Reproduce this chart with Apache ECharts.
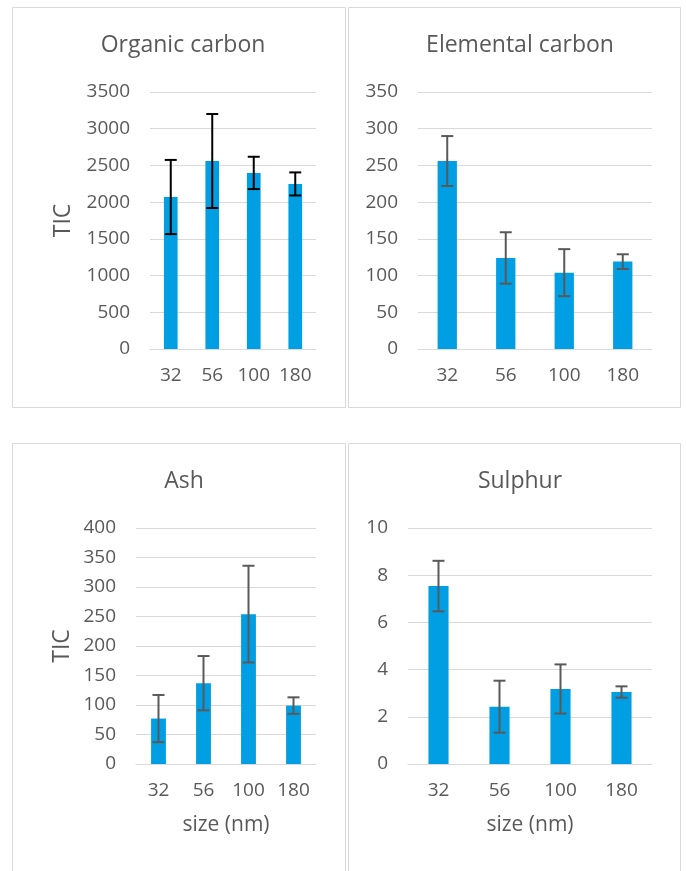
<!DOCTYPE html>
<html><head><meta charset="utf-8">
<script src="https://cdn.jsdelivr.net/npm/echarts@6/dist/echarts.min.js"></script>
<style>html,body{margin:0;padding:0;background:#fff}#c{width:686px;height:871px}</style>
</head><body><div id="c"></div>
<script>
const categories = ['32', '56', '100', '180'];
const titles = ['Organic carbon', 'Elemental carbon', 'Ash', 'Sulphur'];
const yAxisNames = ['TIC', '', 'TIC', ''];
const xAxisNames = ['', '', 'size (nm)', 'size (nm)'];
const organicCarbon = [2070, 2560, 2398, 2248];
const organicCarbonErr = [505, 640, 220, 157];
const elementalCarbon = [256, 124, 104, 119];
const elementalCarbonErr = [34, 35, 32, 10];
const ash = [77, 137, 254, 99];
const ashErr = [40, 46, 82, 14];
const sulphur = [7.54, 2.43, 3.18, 3.05];
const sulphurErr = [1.07, 1.1, 1.04, 0.24];
const yMax = [3500, 350, 400, 10];
const yInterval = [500, 50, 50, 2];

const values = [organicCarbon, elementalCarbon, ash, sulphur];
const errs = [organicCarbonErr, elementalCarbonErr, ashErr, sulphurErr];
const errColors = ['#000000', '#595959', '#595959', '#595959'];

const grids = [
  {left: 150, top: 92, width: 166, height: 257},
  {left: 418, top: 92, width: 234, height: 257},
  {left: 136, top: 528, width: 180, height: 236},
  {left: 408, top: 528, width: 244, height: 236}
];
const yNameGaps = [75, 75, 62, 62];
const titlePos = [[178, 29], [515, 29], [179, 465], [515, 465]];
const boxes = [
  [12.5, 7.5, 333, 400], [348.5, 7.5, 332, 400],
  [12.5, 443.5, 333, 440], [348.5, 443.5, 332, 440]
];
const textColor = '#595959';
const font = 'Open Sans';

const option = {
  animation: false,
  backgroundColor: '#fff',
  textStyle: {fontFamily: font},
  graphic: boxes.map(b => ({
    type: 'rect', silent: true, z: -10,
    shape: {x: b[0], y: b[1], width: b[2], height: b[3]},
    style: {fill: 'none', stroke: '#d9d9d9', lineWidth: 1}
  })),
  title: titles.map((t, i) => ({
    text: t, left: titlePos[i][0], top: titlePos[i][1], textAlign: 'center',
    textStyle: {fontFamily: font, fontSize: 23, fontWeight: 'normal', color: textColor}
  })),
  grid: grids.map(g => Object.assign({containLabel: false}, g)),
  xAxis: grids.map((g, i) => ({
    type: 'category', gridIndex: i, data: categories,
    axisLine: {show: true, lineStyle: {color: '#d9d9d9', width: 1}},
    axisTick: {show: false},
    axisLabel: {color: textColor, fontSize: 19, fontFamily: font, margin: 17,
      interval: 0, hideOverlap: false},
    name: xAxisNames[i], nameLocation: 'middle', nameGap: 51,
    nameTextStyle: {color: textColor, fontSize: 21, fontFamily: font}
  })),
  yAxis: grids.map((g, i) => ({
    type: 'value', gridIndex: i, min: 0, max: yMax[i], interval: yInterval[i],
    axisLine: {show: false}, axisTick: {show: false},
    splitLine: {lineStyle: {color: '#d9d9d9', width: 1}},
    axisLabel: {color: textColor, fontSize: 19, fontFamily: font, margin: 20,
      formatter: v => String(v)},
    name: yAxisNames[i], nameLocation: 'middle', nameGap: yNameGaps[i], nameRotate: 90,
    nameTextStyle: {color: textColor, fontSize: 23, fontFamily: font}
  })),
  series: []
};

values.forEach((vals, i) => {
  option.series.push({
    type: 'bar', xAxisIndex: i, yAxisIndex: i, data: vals,
    barWidth: '33%', itemStyle: {color: '#009fe3'}
  });
  option.series.push({
    type: 'custom', xAxisIndex: i, yAxisIndex: i, z: 10,
    data: vals.map((v, k) => [k, v - errs[i][k], v + errs[i][k]]),
    renderItem: function (params, api) {
      const x = api.value(0);
      const lo = api.coord([x, api.value(1)]);
      const hi = api.coord([x, api.value(2)]);
      const hw = 6;
      const st = {stroke: errColors[i], lineWidth: 2, fill: 'none'};
      return {
        type: 'group',
        children: [
          {type: 'line', shape: {x1: hi[0], y1: hi[1], x2: lo[0], y2: lo[1]}, style: st},
          {type: 'line', shape: {x1: hi[0] - hw, y1: hi[1], x2: hi[0] + hw, y2: hi[1]}, style: st},
          {type: 'line', shape: {x1: lo[0] - hw, y1: lo[1], x2: lo[0] + hw, y2: lo[1]}, style: st}
        ]
      };
    }
  });
});

const chart = echarts.init(document.getElementById('c'), null, {renderer: 'canvas'});
chart.setOption(option);
</script>
</body></html>
